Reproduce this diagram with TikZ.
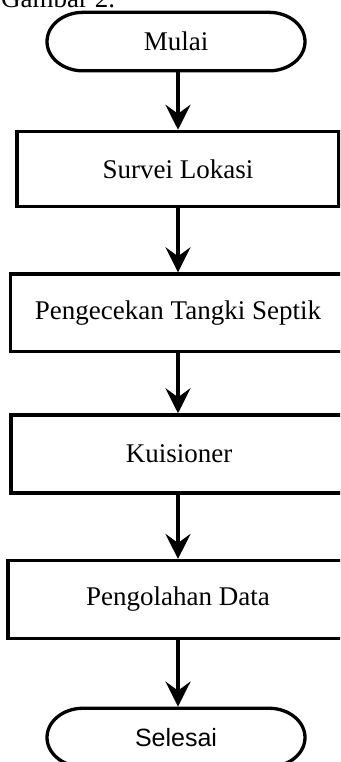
\documentclass[tikz,border=0pt]{standalone}
\usepackage{fontspec}
\setmainfont{Liberation Serif}
\newfontfamily\endfont{Liberation Sans}
\usetikzlibrary{arrows.meta}

% outline of a terminal (start/end) symbol around a node of that name
\newcommand\termoutline[1]{%
  \draw[outl] ([xshift=36pt]#1.north west) -- ([xshift=-36pt]#1.north east)
    arc[start angle=90,end angle=-90,x radius=36pt,y radius=29.25pt]
    -- ([xshift=36pt]#1.south west)
    arc[start angle=270,end angle=90,x radius=36pt,y radius=29.25pt] -- cycle;}

\tikzset{
  outl/.style={line width=3.3pt, line join=round},
  lbl/.style={font=\fontsize{27}{30}\selectfont, text=black},
  term/.style={lbl, minimum width=258pt, minimum height=58.5pt, inner sep=0pt, outer sep=0pt},
  procbox/.style={lbl, draw, line width=3.5pt, minimum height=#1, inner sep=0pt},
  flow/.style={line width=3.5pt, -{Stealth[length=25pt,width=25pt,inset=9pt]}}
}

\begin{document}
\begin{tikzpicture}[x=1pt,y=-1pt]
  \useasboundingbox (0,0) rectangle (340,762);
  \clip (0,0) rectangle (340,762);
  \fill[white] (0,0) rectangle (340,762);

  % caption, cut at the top edge
  \node[lbl, anchor=base west, inner sep=0pt] (cap) at (1,7.5) {Gambar 2.};

  % terminals
  \node[term] (mulai) at (176,41.6) {Mulai};
  \termoutline{mulai}
  \node[term, font=\endfont\fontsize{25}{28}\selectfont] (selesai) at (176,737.5) {\raisebox{-2pt}{Selesai}};
  \termoutline{selesai}

  % process boxes (they run past the right edge)
  \node[procbox=75pt,   minimum width=322pt] (survei)  at (178,169)   {Survei Lokasi};
  \node[procbox=77.5pt, minimum width=335pt] (cek)     at (178,312.8) {Pengecekan Tangki Septik};
  \node[procbox=78pt,   minimum width=336pt] (kuis)    at (179,454)   {Kuisioner};
  \node[procbox=77.6pt, minimum width=340pt] (olah)    at (178,599.5) {Pengolahan Data};

  % connectors
  \draw[flow] ([yshift=-1.65pt]mulai.south -| survei.north) -- (survei.north);
  \draw[flow] (survei.south) -- (cek.north);
  \draw[flow] (cek.south) -- (cek.south |- kuis.north);
  \draw[flow] (kuis.south -| olah.south) -- (olah.north);
  \draw[flow] (olah.south) -- ([yshift=1.65pt]olah.south |- selesai.north);
\end{tikzpicture}
\end{document}
